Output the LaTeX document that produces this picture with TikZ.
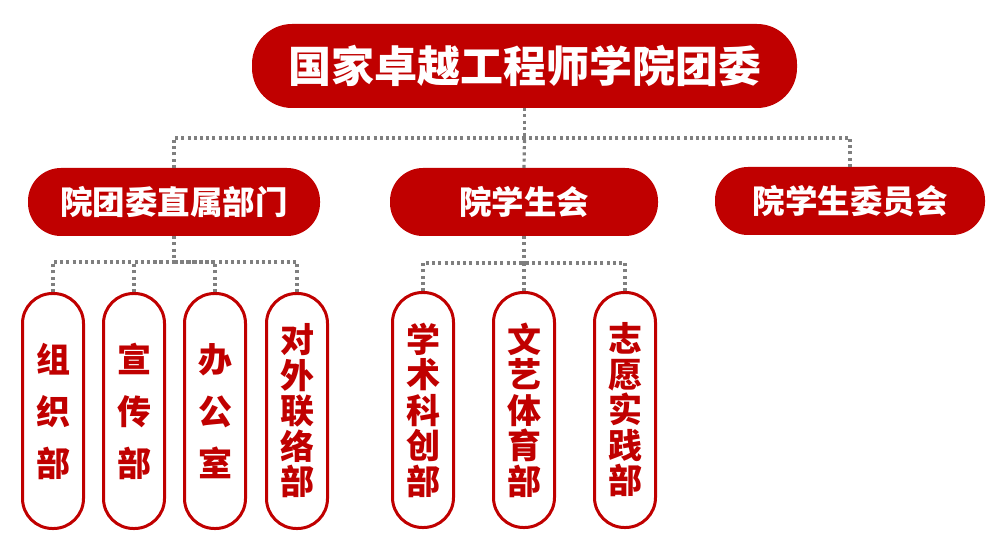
\documentclass[tikz,border=0pt]{standalone}
\usepackage{fontspec}
\newfontfamily\cjk[BoldFont={Noto Sans CJK SC Black}]{Noto Sans CJK SC}
\definecolor{dred}{HTML}{C00000}
\definecolor{dgray}{HTML}{7F7F7F}
\begin{document}
\begin{tikzpicture}[x=1pt,y=-1pt,
  topbox/.style={fill=dred,text=white,rounded corners=40pt,minimum width=545pt,minimum height=84pt,inner sep=0pt,font=\cjk\bfseries\fontsize{43}{46}\selectfont},
  midbox/.style={fill=dred,text=white,rounded corners=33pt,minimum height=68pt,inner sep=0pt,font=\cjk\bfseries\fontsize{32.5}{36}\selectfont},
  capsule/.style={draw=dred,line width=3pt,fill=white,text=dred,rounded corners=30pt,minimum width=61pt,minimum height=235pt,inner sep=0pt,align=center},
  shortv/.style={font=\cjk\bfseries\fontsize{34}{52}\selectfont},
  longv/.style={font=\cjk\bfseries\fontsize{34}{35.5}\selectfont},
  dotline/.style={draw=dgray,line width=3.2pt,dash pattern=on 3pt off 3.2pt}
]
\useasboundingbox (0,0) rectangle (998,534);
\node[topbox] (top) at (524.5,66) {国家卓越工程师学院团委};
\node[midbox,minimum width=292pt] (ma) at (174,202) {院团委直属部门};
\node[midbox,minimum width=268pt] (mb) at (524,202) {院学生会};
\node[midbox,minimum width=270pt] (mc) at (850,201) {院学生委员会};

\node[capsule,shortv] (a1) at (53,411) {组\\织\\部};
\node[capsule,shortv] (a2) at (134,411) {宣\\传\\部};
\node[capsule,shortv] (a3) at (215,411) {办\\公\\室};
\node[capsule,longv] (a4) at (297,411) {对\\外\\联\\络\\部};
\node[capsule,longv] (b1) at (423,410) {学\\术\\科\\创\\部};
\node[capsule,longv] (b2) at (524,410) {文\\艺\\体\\育\\部};
\node[capsule,longv] (b3) at (625,410) {志\\愿\\实\\践\\部};

\coordinate (bus0) at (524.5,138);
\coordinate (busa) at (174,262);
\coordinate (busb) at (524,263);
\draw[dotline] (top.south) -- (bus0);
\draw[dotline] (ma.north) |- (bus0);
\draw[dotline] (mb.north) -- (bus0);
\draw[dotline] (mc.north) |- (bus0);
\draw[dotline] (ma.south) -- (busa);
\foreach \n in {a1,a2,a3,a4} \draw[dotline] (\n.north) |- (busa);
\draw[dotline] (mb.south) -- (busb);
\foreach \n in {b1,b2,b3} \draw[dotline] (\n.north) |- (busb);
\end{tikzpicture}
\end{document}
